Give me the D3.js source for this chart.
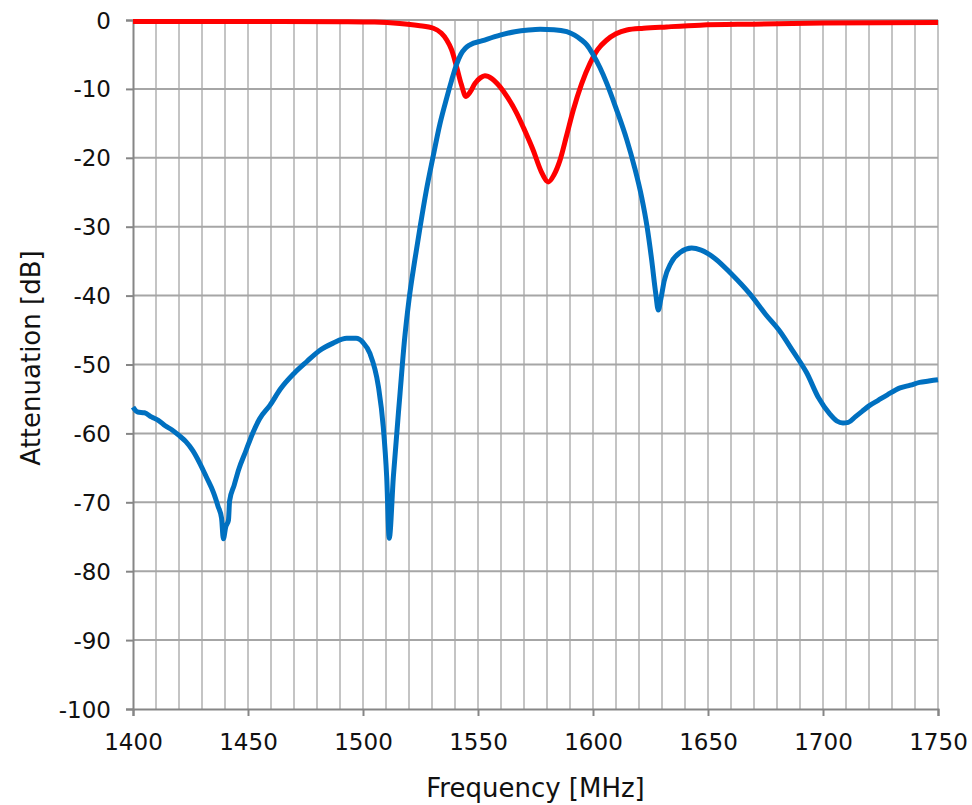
<!DOCTYPE html>
<html>
<head>
<meta charset="utf-8">
<script src="https://cdn.jsdelivr.net/npm/d3@7"></script>
<style>
  html, body { margin: 0; padding: 0; background: #fff; }
  svg text { font-family: "DejaVu Sans", Verdana, sans-serif; fill: #111; }
</style>
</head>
<body>
<div id="chart"></div>
<script>
// -----------------------------
// Data
// -----------------------------
const blueFreq = [1400, 1402, 1405, 1408, 1411, 1414, 1417, 1420, 1423, 1426, 1429, 1432, 1435, 1437, 1438.5, 1439.3, 1440.3, 1441.5, 1442, 1444, 1446, 1449, 1452, 1455, 1459.6, 1464, 1470, 1475.5, 1481, 1487, 1492.9, 1497, 1500, 1503, 1506.7, 1508.8, 1510.3, 1511.4, 1513.2, 1516.1, 1518, 1520, 1522.5, 1524.8, 1527.5, 1530.3, 1533.5, 1536.4, 1538.5, 1540.5, 1542.5, 1544.5, 1546.5, 1552, 1559.6, 1566, 1572, 1577, 1583, 1588.6, 1592, 1595, 1597.3, 1600, 1603, 1606, 1610, 1614.7, 1618, 1621.2, 1623.5, 1625.5, 1627.2, 1628.4, 1629.5, 1631, 1634, 1638, 1642.9, 1647, 1653, 1660, 1668.3, 1675, 1681.3, 1687, 1692.9, 1698, 1703, 1706, 1708.7, 1711, 1714, 1717, 1720, 1724, 1728, 1733.5, 1738, 1742, 1746, 1750];
const blueAtt = [-56.2, -56.9, -57.0, -57.6, -58.1, -58.9, -59.5, -60.3, -61.2, -62.5, -64.3, -66.4, -68.6, -70.6, -72.3, -75.3, -73.6, -72.6, -69.8, -67.5, -65.2, -62.6, -60.0, -57.9, -55.9, -53.6, -51.3, -49.6, -48.0, -46.9, -46.2, -46.2, -46.8, -48.4, -53.2, -59, -66.3, -75.2, -66.3, -54.2, -46.6, -40.6, -34.9, -30.1, -24.8, -20.1, -15, -11.3, -8.8, -6.6, -5.0, -4.1, -3.6, -3.0, -2.2, -1.7, -1.45, -1.35, -1.4, -1.7, -2.2, -2.9, -3.6, -5.0, -6.9, -9.2, -12.8, -17.4, -21.3, -25.8, -30.0, -34.8, -39.5, -42.1, -40.5, -37.8, -35.2, -33.7, -33.1, -33.4, -34.6, -36.8, -39.8, -42.7, -45.2, -48.1, -51.2, -54.8, -57.2, -58.2, -58.5, -58.4, -57.6, -56.8, -56.0, -55.2, -54.4, -53.4, -53.0, -52.6, -52.4, -52.2];

const redFreq = [1400, 1450, 1490, 1505, 1516, 1524, 1530.6, 1534, 1536.4, 1538.5, 1540.7, 1542.7, 1544.8, 1546.5, 1548.7, 1551, 1553, 1556, 1559.6, 1563, 1566.8, 1570, 1574, 1577.5, 1580.6, 1583, 1585.7, 1588.5, 1591.4, 1595, 1598.7, 1602, 1606, 1610, 1614.7, 1622, 1632, 1646.5, 1670, 1700, 1750];
const redAtt = [-0.2, -0.2, -0.25, -0.3, -0.5, -0.8, -1.2, -1.9, -2.9, -4.3, -6.8, -9.3, -11.1, -10.5, -9.2, -8.4, -8.1, -8.5, -9.7, -11.3, -13.5, -15.8, -18.9, -22, -23.5, -22.5, -20.3, -16.8, -13.1, -9.3, -6.3, -4.3, -2.9, -2.0, -1.45, -1.2, -1.0, -0.75, -0.6, -0.45, -0.35];

const xTicks = [1400, 1450, 1500, 1550, 1600, 1650, 1700, 1750];
const yTicks = [0, -10, -20, -30, -40, -50, -60, -70, -80, -90, -100];

// -----------------------------
// Layout
// -----------------------------
const width = 972, height = 805;
const margin = { top: 20, right: 34, bottom: 96, left: 133 };
const innerW = width - margin.left - margin.right;
const innerH = height - margin.top - margin.bottom;

const svg = d3.select("#chart").append("svg")
  .attr("width", width)
  .attr("height", height);

const g = svg.append("g")
  .attr("transform", `translate(${margin.left},${margin.top})`);

const x = d3.scaleLinear().domain([1400, 1750]).range([0, innerW]);
const y = d3.scaleLinear().domain([-100, 0]).range([innerH, 0]);

// -----------------------------
// Gridlines
// -----------------------------
g.append("g")
  .selectAll("line")
  .data(d3.range(1410, 1751, 10))
  .join("line")
  .attr("x1", d => x(d)).attr("x2", d => x(d))
  .attr("y1", 0).attr("y2", innerH)
  .attr("stroke", "#c4c4c4")
  .attr("stroke-width", 2);

g.append("g")
  .selectAll("line")
  .data(yTicks.filter(d => d > -100))
  .join("line")
  .attr("x1", 0).attr("x2", innerW)
  .attr("y1", d => y(d)).attr("y2", d => y(d))
  .attr("stroke", "#a6a6a6")
  .attr("stroke-width", 2);

// -----------------------------
// Axes
// -----------------------------
const xAxis = g.append("g")
  .attr("transform", `translate(0,${innerH})`)
  .call(d3.axisBottom(x).tickValues(xTicks).tickSize(7).tickPadding(18).tickFormat(d3.format("d")));

const yAxis = g.append("g")
  .call(d3.axisLeft(y).tickValues(yTicks).tickSize(7).tickPadding(15).tickFormat(d => d));

[xAxis, yAxis].forEach(a => {
  a.select(".domain").attr("stroke", "#868686").attr("stroke-width", 2);
  a.selectAll(".tick line").attr("stroke", "#868686").attr("stroke-width", 2);
  a.selectAll("text").style("font-size", "23px").style("font-family", "'DejaVu Sans', Verdana, sans-serif").attr("fill", "#111");
});
yAxis.selectAll("text").attr("dy", "0.35em");

// -----------------------------
// Curves
// -----------------------------
const line = d3.line()
  .x(d => x(d[0]))
  .y(d => y(d[1]))
  .curve(d3.curveMonotoneX);

g.append("path")
  .datum(d3.zip(redFreq, redAtt))
  .attr("d", line)
  .attr("fill", "none")
  .attr("stroke", "#ff0000")
  .attr("stroke-width", 5)
  .attr("stroke-linejoin", "round");

g.append("path")
  .datum(d3.zip(blueFreq, blueAtt))
  .attr("d", line)
  .attr("fill", "none")
  .attr("stroke", "#0070c0")
  .attr("stroke-width", 5)
  .attr("stroke-linejoin", "round");

// -----------------------------
// Axis titles
// -----------------------------
svg.append("text")
  .attr("x", margin.left + innerW / 2)
  .attr("y", 797)
  .attr("text-anchor", "middle")
  .style("font-size", "26px")
  .text("Frequency [MHz]");

svg.append("text")
  .attr("transform", `translate(40,358) rotate(-90)`)
  .attr("text-anchor", "middle")
  .style("font-size", "26px")
  .text("Attenuation [dB]");
</script>
</body>
</html>
